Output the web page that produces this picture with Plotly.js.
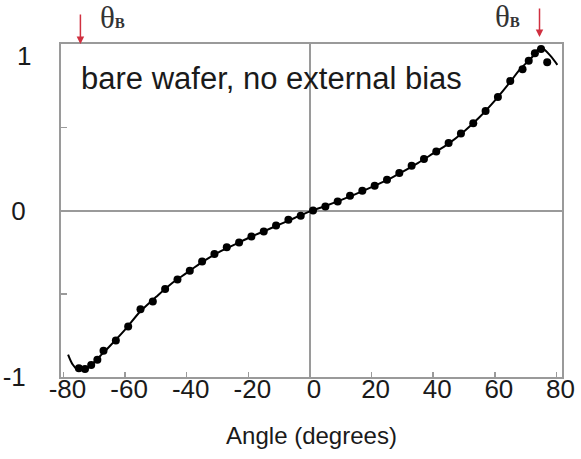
<!DOCTYPE html>
<html>
<head>
<meta charset="utf-8">
<script src="https://cdn.plot.ly/plotly-3.0.1.min.js"></script>
<style>html,body{margin:0;padding:0;background:#fff;}#chart{width:581px;height:459px;}</style>
</head>
<body>
<div id="chart"></div>
<script>
// Measured points (angle in degrees, normalized signal)
var measAngle = [-75,-73,-71,-69,-67,-63,-59,-55,-51,-47,-43,-39,-35,-31,-27,-23,-19,-15,-11,-7,-3,1,5,9,13,17,21,25,29,33,37,41,45,49,53,57,61,65,69,71,73,75,77];
var measValue = [-0.947,-0.952,-0.928,-0.897,-0.843,-0.781,-0.697,-0.593,-0.547,-0.472,-0.414,-0.362,-0.306,-0.262,-0.22,-0.192,-0.156,-0.126,-0.09,-0.056,-0.032,0.0,0.024,0.054,0.088,0.118,0.148,0.184,0.225,0.269,0.309,0.355,0.405,0.463,0.524,0.597,0.682,0.778,0.849,0.899,0.944,0.97,0.89];

// Fitted curve
var fitAngle = [-78.5,-77,-75.5,-74,-73,-71,-68,-65,-60,-55,-50,-45,-40,-35,-30,-25,-20,-15,-10,-5,0,5,10,15,20,25,30,35,40,45,50,55,60,65,68,71,73,74.5,76,78,80.3];
var fitValue = [-0.865,-0.925,-0.955,-0.958,-0.955,-0.928,-0.872,-0.815,-0.715,-0.605,-0.52,-0.44,-0.375,-0.31,-0.255,-0.21,-0.165,-0.125,-0.085,-0.045,-0.005,0.027,0.062,0.1,0.14,0.182,0.232,0.285,0.343,0.402,0.475,0.56,0.66,0.772,0.845,0.9,0.94,0.978,0.968,0.93,0.875];

// Brewster angle markers
var brewsterAngle = [-74.5, 74.5];
var brewsterLabel = ['θ<span style="font-size:15px;font-weight:bold">B</span>', 'θ<span style="font-size:15px;font-weight:bold">B</span>'];

var xTicks = [-80,-60,-40,-20,0,20,40,60,80];
var xTickText = ['-80','-60','-40','-20','0','20','40','60','80'];
var yTicks = [-1,-0.5,0,0.5,1];
var yTickText = ['-1','','0','','1'];
// the top label is set slightly below its tick in the original
var yAxisTickText = yTickText.slice(0, 4).concat(['']);

var gray = '#9a9a9a';
var traces = [
  {x: fitAngle, y: fitValue, mode: 'lines', line: {color: '#000', width: 2, shape: 'spline', smoothing: 1}, hoverinfo: 'skip', cliponaxis: false},
  {x: measAngle, y: measValue, mode: 'markers', marker: {color: '#000', size: 8}, cliponaxis: false}
];

var annotations = [
  {xref: 'paper', yref: 'paper', x: 0.421, y: 0.895, text: 'bare wafer, no external bias', showarrow: false,
   font: {family: 'Liberation Sans, Arial, sans-serif', size: 31, color: '#1a1a1a'}, xanchor: 'center', yanchor: 'middle'},
  {xref: 'paper', yref: 'y', x: 0, y: yTicks[4], text: yTickText[4], showarrow: false, xanchor: 'right', yanchor: 'middle',
   xshift: -28, yshift: -12, font: {family: 'Liberation Sans, Arial, sans-serif', size: 26, color: '#1a1a1a'}},
  {xref: 'x', yref: 'y', x: brewsterAngle[0], y: 1.0, text: '', showarrow: true, ax: 0, ay: -31,
   arrowcolor: '#d03040', arrowwidth: 1.5, arrowhead: 2, arrowsize: 1},
  {xref: 'x', yref: 'y', x: brewsterAngle[1], y: 1.0, yshift: 7, text: '', showarrow: true, ax: 0, ay: -30,
   arrowcolor: '#d03040', arrowwidth: 1.5, arrowhead: 2, arrowsize: 1},
  {xref: 'x', yref: 'y', x: brewsterAngle[0], y: 1.0, text: brewsterLabel[0], showarrow: false, xshift: 32, yshift: 27,
   font: {family: 'Liberation Serif, DejaVu Serif, serif', size: 31, color: '#333'}},
  {xref: 'x', yref: 'y', x: brewsterAngle[1], y: 1.0, text: brewsterLabel[1], showarrow: false, xshift: -32, yshift: 28,
   font: {family: 'Liberation Serif, DejaVu Serif, serif', size: 31, color: '#333'}}
];

var layout = {
  width: 581, height: 459,
  margin: {l: 61, r: 19, t: 44, b: 82},
  paper_bgcolor: '#fff', plot_bgcolor: '#fff',
  showlegend: false,
  font: {family: 'Liberation Sans, Arial, sans-serif', color: '#1a1a1a'},
  xaxis: {
    range: [-80.8, 81.8], tickvals: xTicks, ticktext: xTickText, ticks: 'inside', ticklen: 5, tickwidth: 1.5, tickcolor: gray,
    showline: true, mirror: true, linecolor: gray, linewidth: 2,
    zeroline: true, zerolinecolor: gray, zerolinewidth: 2, showgrid: false,
    tickfont: {size: 26, color: '#1a1a1a'}, ticklabelshift: 4, ticklabelstandoff: -12,
    title: {text: 'Angle (degrees)', font: {size: 24, color: '#1a1a1a'}, standoff: 24}
  },
  yaxis: {
    range: [-1, 1], tickvals: yTicks, ticktext: yAxisTickText, ticks: 'inside', ticklen: 6, tickwidth: 1.5, tickcolor: gray,
    showline: true, mirror: true, linecolor: gray, linewidth: 2,
    zeroline: true, zerolinecolor: gray, zerolinewidth: 2, showgrid: false,
    tickfont: {size: 26, color: '#1a1a1a'}, ticklabelstandoff: 28
  },
  annotations: annotations
};

Plotly.newPlot('chart', traces, layout, {staticPlot: true, displayModeBar: false});
</script>
</body>
</html>
